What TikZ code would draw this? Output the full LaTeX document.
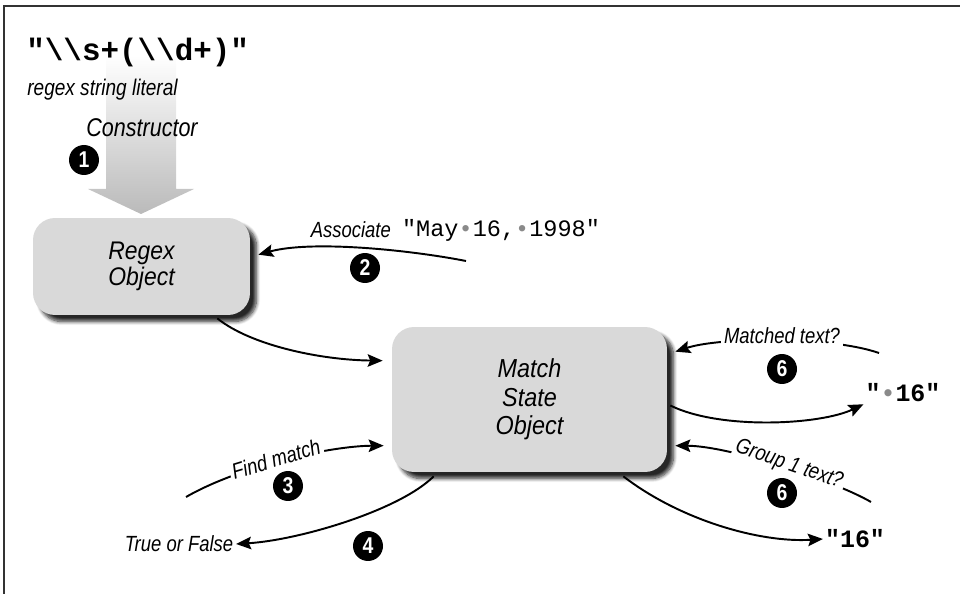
\documentclass[tikz,border=0pt]{standalone}
\usepackage{fontspec}
\setmainfont{Liberation Sans}
\newfontfamily\labfont{Liberation Sans}[FakeStretch=0.84]
\newfontfamily\boxfont{Liberation Sans}[FakeStretch=0.9]
\newfontfamily\numfont{Liberation Sans}[FakeStretch=0.85]
\newfontfamily\codefont{Liberation Mono}
\usetikzlibrary{arrows.meta,calc,shadows.blur}
\definecolor{boxgray}{HTML}{D9D9D9}
\definecolor{dotgray}{HTML}{8A8A8A}
\definecolor{framegray}{HTML}{333333}
\newcommand{\gd}{\textcolor{dotgray}{\char"2022}}
\tikzset{
  objbox/.style={fill=boxgray, rounded corners=0.44cm, align=center,
    font=\boxfont\itshape\fontsize{14.5}{12.5}\selectfont,
    blur shadow={shadow xshift=0.13cm, shadow yshift=-0.13cm, shadow blur steps=8, shadow blur extra rounding=2pt, shadow opacity=85}},
  lab/.style={font=\labfont\itshape\fontsize{12.5}{13}\selectfont, inner sep=1.5pt},
  wlab/.style={lab, fill=white},
  code/.style={font=\codefont\fontsize{13.4}{15}\selectfont, inner sep=1pt},
  bcode/.style={font=\codefont\bfseries\fontsize{14.2}{16}\selectfont, inner sep=1pt},
  num/.style={circle, fill=black, text=white, inner sep=0pt, minimum size=0.6cm,
    font=\numfont\bfseries\fontsize{13}{13}\selectfont},
  conn/.style={line width=1.1pt, -{Stealth[length=0.3cm,width=0.25cm,inset=0.05cm]}}
}
\begin{document}
\begin{tikzpicture}[x=0.02cm,y=-0.02cm]
\useasboundingbox (0,0) rectangle (960,594);
% frame
\draw[framegray, line width=1.1pt] (4,600) -- (4,6) -- (965,6);

% wide constructor arrow
\shade[top color=white, bottom color=black!27, shading angle=0]
  (106,55) -- (176,55) -- (176,189) -- (194,189) -- (141,214) -- (88,189) -- (106,189) -- cycle;

% text nodes
\node[font=\codefont\bfseries\fontsize{17.6}{18}\selectfont, anchor=west, inner sep=0pt] (lit) at (26,53) {"\textbackslash\textbackslash s+(\textbackslash\textbackslash d+)"};
\node[anchor=west, inner sep=0pt, font=\labfont\itshape\fontsize{12.9}{13}\selectfont] (litlab) at (27,90) {regex string literal};
\node[inner sep=1pt, font=\labfont\itshape\fontsize{14.6}{15}\selectfont] (ctor) at (142,128) {Constructor};
\node[num] (n1) at (84,160) {1};

% boxes
\node[objbox, minimum width=4.34cm, minimum height=1.94cm] (regex) at (141.5,266.5) {Regex\\Object};
\node[objbox, minimum width=5.5cm, minimum height=2.9cm, font=\boxfont\itshape\fontsize{14.8}{16.2}\selectfont] (match) at (529.5,399.5) {Match\\State\\Object};

% anchor coordinates
\coordinate (c2) at (466,261);
\coordinate (c3) at (186,497);
\coordinate (c6a) at (879,353);
\coordinate (c6b) at (871,502);

% curves (drawn under white text)
\draw[conn] (c2) .. controls (410,250) and (312,240) .. ($(regex.north east)+(8,37)$);
\draw[conn] (c3) .. controls (240,466) and (330,446) .. ($(match.north west)+(-8,119)$);
\draw[conn] (c6a) .. controls (830,336) and (720,337) .. ($(match.north east)+(8,25)$);
\draw[conn] (c6b) .. controls (835,481) and (730,446) .. ($(match.north east)+(8,119)$);

% labels over curves
\node[wlab, anchor=west, inner ysep=3pt, inner xsep=2pt] (assoc) at (307,230) {Associate};
\node[code, anchor=west, fill=white, inner ysep=4pt] (date) at (400,230) {"May\gd 16,\gd 1998"};
\node[num] (n2) at (365,268) {2};

\node[wlab, rotate=17] (find) at (276,459) {Find match};
\node[num] (n3) at (288,486) {3};

\node[wlab] (mt) at (782,336) {Matched text?};
\node[num] (n6a) at (782,369) {6};

\node[wlab, rotate=-19] (g1) at (789,465) {Group 1 text?};
\node[num] (n6b) at (782,493) {6};

% outputs
\node[bcode] (sp16) at (903,393) {"\gd 16"};
\node[bcode] (q16) at (855,539) {"16"};
\node[lab] (tf) at (179,544) {True or False};
\node[num] (n4) at (368,546) {4};

% connectors between boxes and outputs
\draw[conn] ($(regex.south east)+(-33,3)$) .. controls (250,345) and (320,360) .. ($(match.north west)+(-9,34)$);
\draw[conn] ($(match.east)+(3,6)$) .. controls (720,430) and (820,425) .. (sp16.south west);
\draw[conn] ($(match.south east)+(-44,4)$) .. controls (680,520) and (760,543) .. (q16.west);
\draw[conn] ($(match.south west)+(42,4)$) .. controls (400,510) and (300,540) .. (tf.east);
\end{tikzpicture}
\end{document}
